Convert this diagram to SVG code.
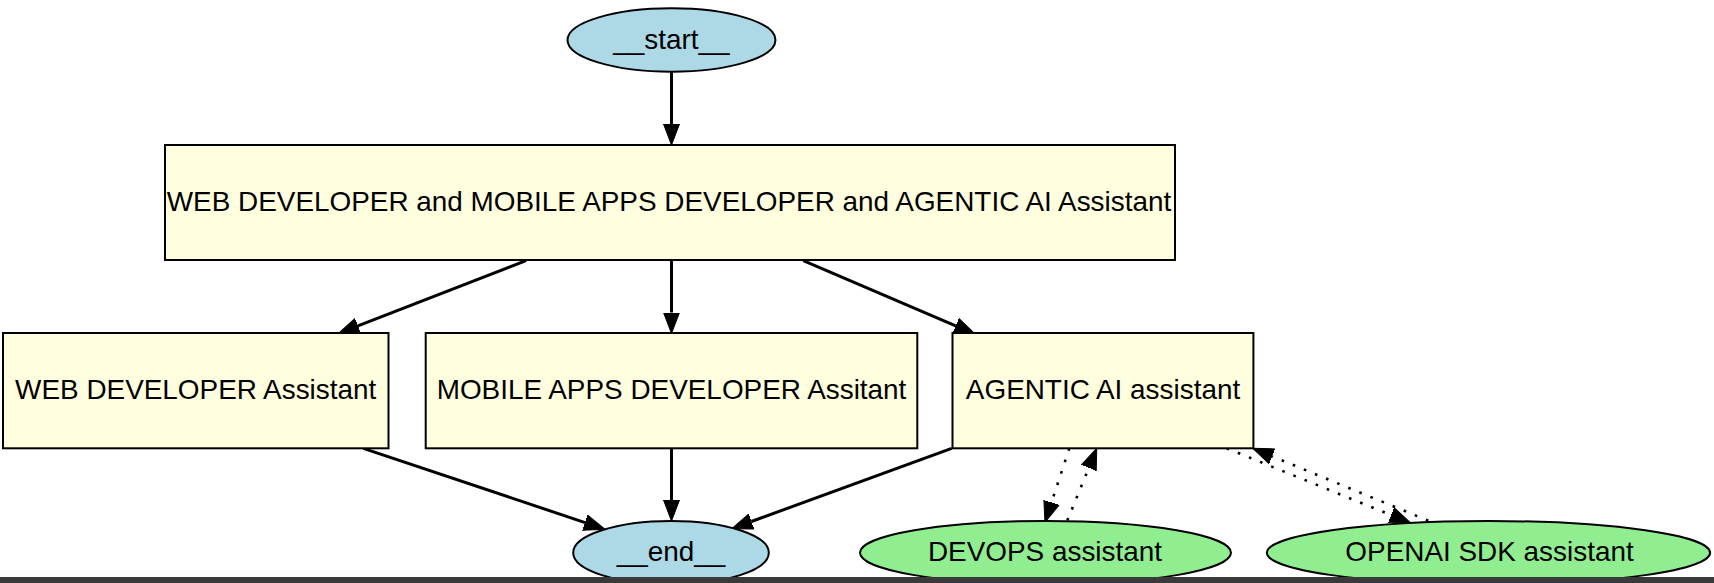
<svg xmlns="http://www.w3.org/2000/svg" width="1714" height="583" viewBox="0 0 1714 583">
<style>
.box{fill:#ffffe0;stroke:#000;stroke-width:2}
.eb{fill:#add8e6;stroke:#000;stroke-width:2}
.eg{fill:#90ee90;stroke:#000;stroke-width:2}
.lbl{font-family:"Liberation Sans",Arial,sans-serif;font-size:27.9px;fill:#000;text-anchor:middle}
.edge{stroke:#000;stroke-width:3;fill:none;marker-end:url(#arr)}
.dot{stroke:#000;stroke-width:2.6;fill:none;stroke-dasharray:2.6 9.4;marker-end:url(#arr)}
</style>
<defs>
<marker id="arr" markerUnits="userSpaceOnUse" markerWidth="22" markerHeight="18" viewBox="0 0 22 18" refX="0" refY="9" orient="auto">
<path d="M0,1 L21,9 L0,17 Z" fill="#000" stroke="#000" stroke-width="1"/>
</marker>
</defs>
<rect width="1714" height="583" fill="#fff"/>
<g id="edges">
<line class="edge" x1="671.5" y1="71.7" x2="671.5" y2="124"/>
<line class="edge" x1="526" y1="260.7" x2="357.9" y2="325.9"/>
<line class="edge" x1="671.5" y1="260.7" x2="671.5" y2="312.5"/>
<line class="edge" x1="803.3" y1="260.7" x2="955.7" y2="325.8"/>
<line class="edge" x1="363.3" y1="448.3" x2="585.1" y2="522.6"/>
<line class="edge" x1="671.5" y1="448.3" x2="671.5" y2="500"/>
<line class="edge" x1="951.7" y1="448.3" x2="751.4" y2="521.5"/>
<line class="dot" x1="1069.3" y1="448.3" x2="1051.5" y2="502.5"/>
<line class="dot" x1="1067.3" y1="520.5" x2="1088.8" y2="467.8"/>
<line class="dot" x1="1226.7" y1="448.3" x2="1391.2" y2="515.1"/>
<line class="dot" x1="1428.3" y1="520.7" x2="1272.1" y2="456.3"/>
</g>
<g id="start">
<ellipse class="eb" cx="671.5" cy="40" rx="104" ry="31.7"/>
<text class="lbl" x="671.5" y="49">__start__</text>
</g>
<g id="main">
<rect class="box" x="165" y="145" width="1010" height="115"/>
<text class="lbl" x="669" y="210.5">WEB DEVELOPER and MOBILE APPS DEVELOPER and AGENTIC AI Assistant</text>
</g>
<g id="web">
<rect class="box" x="3" y="333" width="385.5" height="115.3"/>
<text class="lbl" x="195.7" y="399">WEB DEVELOPER Assistant</text>
</g>
<g id="mobile">
<rect class="box" x="425.7" y="333" width="491.6" height="115.3"/>
<text class="lbl" x="671.5" y="399">MOBILE APPS DEVELOPER Assitant</text>
</g>
<g id="agentic">
<rect class="box" x="952.5" y="333" width="300.9" height="115.3"/>
<text class="lbl" x="1103" y="399">AGENTIC AI assistant</text>
</g>
<g id="end">
<ellipse class="eb" cx="671" cy="552.7" rx="97.8" ry="31.7"/>
<text class="lbl" x="671" y="561">__end__</text>
</g>
<g id="devops">
<ellipse class="eg" cx="1045.5" cy="552.7" rx="185.5" ry="31.7"/>
<text class="lbl" x="1045" y="561">DEVOPS assistant</text>
</g>
<g id="openai">
<ellipse class="eg" cx="1488.5" cy="552.7" rx="221.6" ry="31.7"/>
<text class="lbl" x="1489.5" y="561">OPENAI SDK assistant</text>
</g>
<rect x="0" y="577" width="1714" height="6" fill="#3a3a3a"/>
</svg>
